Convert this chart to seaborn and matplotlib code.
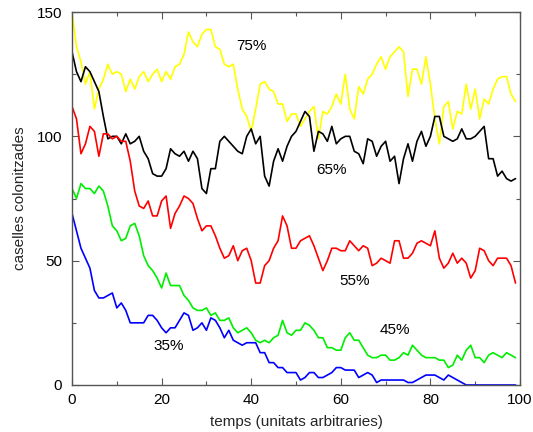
import numpy as np
import pandas as pd
import matplotlib
matplotlib.use("Agg")
import matplotlib.pyplot as plt
import seaborn as sns
from matplotlib.ticker import MultipleLocator

# ocupacio inicial (percentatge) -> caselles colonitzades al llarg del temps
temps = list(range(100))

ocup_75 = [150, 136, 130, 121, 126, 111, 119, 123, 129, 125, 126, 125, 118, 123, 119, 124, 126, 122, 125, 127,
           122, 126, 123, 128, 129, 133, 142, 138, 136, 141, 143, 143, 136, 135, 129, 128, 129, 119, 111, 108,
           102, 111, 121, 122, 119, 118, 113, 113, 106, 109, 109, 104, 107, 110, 112, 99, 110, 109, 112, 117,
           113, 125, 111, 107, 120, 117, 123, 125, 129, 132, 127, 132, 134, 136, 134, 116, 127, 127, 121, 132,
           121, 107, 97, 112, 114, 103, 110, 109, 121, 111, 119, 107, 115, 113, 119, 123, 124, 124, 117, 114]

ocup_65 = [134, 126, 122, 128, 126, 122, 118, 108, 99, 100, 100, 97, 101, 97, 98, 100, 94, 91, 85, 84,
           84, 87, 95, 93, 92, 94, 90, 94, 91, 79, 77, 87, 87, 98, 100, 98, 96, 94, 93, 100,
           103, 97, 100, 84, 80, 90, 95, 90, 96, 100, 102, 106, 110, 108, 94, 102, 101, 98, 104, 97,
           99, 100, 100, 94, 93, 89, 99, 98, 92, 96, 98, 90, 92, 81, 91, 97, 90, 98, 102, 96,
           100, 108, 108, 100, 99, 98, 99, 103, 99, 99, 100, 102, 104, 91, 91, 84, 86, 83, 82, 83]

ocup_55 = [112, 107, 93, 97, 104, 102, 92, 101, 101, 99, 100, 98, 98, 90, 78, 72, 71, 74, 68, 68,
           74, 76, 63, 69, 72, 76, 75, 73, 67, 62, 64, 64, 60, 55, 51, 52, 56, 50, 54, 55,
           50, 41, 41, 48, 50, 55, 58, 68, 64, 55, 55, 58, 59, 60, 56, 51, 46, 50, 55, 55,
           54, 54, 58, 56, 54, 56, 55, 48, 49, 51, 50, 49, 58, 58, 51, 51, 53, 57, 58, 57,
           56, 62, 51, 47, 49, 53, 49, 51, 49, 43, 46, 55, 54, 50, 48, 51, 51, 51, 48, 41]

ocup_45 = [79, 75, 81, 79, 79, 77, 80, 78, 72, 64, 62, 58, 59, 64, 65, 60, 52, 48, 46, 43,
           39, 45, 40, 40, 40, 36, 34, 31, 30, 30, 31, 28, 29, 26, 26, 27, 23, 21, 22, 23,
           21, 18, 17, 18, 17, 19, 20, 26, 21, 20, 22, 22, 25, 24, 22, 19, 19, 15, 15, 14,
           14, 19, 21, 18, 18, 15, 12, 11, 11, 12, 12, 10, 10, 11, 13, 12, 16, 14, 12, 11,
           11, 11, 10, 10, 7, 8, 12, 10, 14, 16, 11, 11, 9, 12, 13, 12, 11, 13, 12, 11]

ocup_35 = [69, 62, 55, 51, 47, 38, 35, 35, 36, 37, 31, 33, 30, 25, 25, 25, 25, 28, 28, 26,
           23, 21, 23, 23, 26, 29, 28, 22, 23, 25, 22, 27, 26, 23, 19, 22, 18, 17, 16, 17,
           17, 17, 13, 13, 9, 9, 7, 7, 5, 5, 5, 2, 3, 5, 5, 3, 3, 4, 5, 7,
           7, 6, 6, 6, 3, 4, 5, 4, 1, 2, 2, 2, 2, 2, 2, 1, 1, 2, 3, 4,
           4, 4, 3, 2, 4, 3, 2, 1, 0, 0, 0, 0, 0, 0, 0, 0, 0, 0, 0, 0]

series_names = ["75%", "65%", "55%", "45%", "35%"]
series_colors = ["#ffff00", "#000000", "#ff0000", "#00ee00", "#0000ff"]
label_x = [40, 58, 63, 72, 21.5]
label_y = [136.5, 86.5, 42, 22, 15.5]

df = pd.DataFrame({"temps": temps, "75%": ocup_75, "65%": ocup_65,
                   "55%": ocup_55, "45%": ocup_45, "35%": ocup_35})
long = df.melt(id_vars="temps", var_name="ocupacio", value_name="caselles")

sns.set_style("ticks")
plt.rcParams["font.family"] = ["Liberation Sans", "DejaVu Sans"]

fig = plt.figure(figsize=(5.33, 4.32), dpi=100)
ax = fig.add_axes([0.1351, 0.1088, 0.8405, 0.8634])

sns.lineplot(data=long, x="temps", y="caselles", hue="ocupacio",
             hue_order=series_names, palette=dict(zip(series_names, series_colors)),
             linewidth=1.2, legend=False, ax=ax)

for name, lx, ly in zip(series_names, label_x, label_y):
    ax.text(lx, ly, name, fontsize=11, ha="center", va="center", color="black")

ax.set_xlim(0, 100)
ax.set_ylim(0, 150)
ax.xaxis.set_major_locator(MultipleLocator(20))
ax.xaxis.set_minor_locator(MultipleLocator(10))
ax.yaxis.set_major_locator(MultipleLocator(50))
ax.yaxis.set_minor_locator(MultipleLocator(25))
ax.tick_params(which="both", direction="in", top=True, right=True,
               color="#555555", labelsize=11, labelcolor="black")
ax.tick_params(axis="x", which="both", pad=5.5)
ax.tick_params(axis="y", which="both", pad=7)
ax.tick_params(which="major", length=5, width=0.8)
ax.tick_params(which="minor", length=3, width=0.8)
for s in ax.spines.values():
    s.set_color("#555555")
    s.set_linewidth(1.0)

ax.set_xlabel("temps (unitats arbitraries)", fontsize=11, labelpad=6)
ax.set_ylabel("caselles colonitzades", fontsize=11, labelpad=7)

fig.savefig("out.png", dpi=100)
